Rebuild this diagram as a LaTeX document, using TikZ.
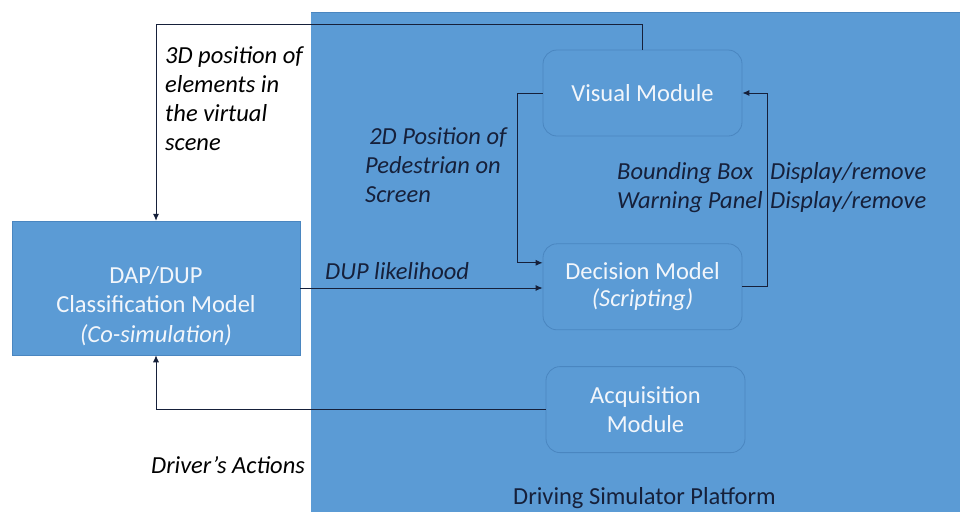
\documentclass[tikz,border=0pt]{standalone}
\usepackage{fontspec}
\setmainfont{Carlito}
\usetikzlibrary{positioning,arrows.meta}

\definecolor{simblue}{HTML}{5B9BD5}
\definecolor{edgeblue}{HTML}{4A86C0}
\definecolor{navy}{HTML}{16203A}
\definecolor{boxtext}{HTML}{F2F6FB}

\begin{document}
\begin{tikzpicture}[
  x=1pt, y=-1pt,
  every node/.style={font=\fontsize{24.5}{29.5}\selectfont},
  module/.style={rectangle,draw=edgeblue,line width=0.8pt,rounded corners=14pt,fill=simblue,
    minimum width=199pt,minimum height=86pt,align=center,text=boxtext},
  model/.style={rectangle,fill=simblue,draw=edgeblue,line width=0.5pt,
    minimum width=288pt,minimum height=134pt},
  lbl/.style={align=left,text=navy,font=\fontsize{24.5}{29}\selectfont\itshape,inner sep=0pt},
  arr/.style={draw=navy,line width=0.9pt,-{Latex[length=7pt,width=6pt]}}
]
\useasboundingbox (0,0) rectangle (960,512);
\fill[white] (0,0) rectangle (960,512);
% simulator platform
\fill[simblue] (311,12) rectangle (960,512);
\draw[edgeblue,line width=1pt] (311,12) -- (960,12);
\node[text=navy,inner sep=0pt,anchor=base west] (platform) at (513,504) {Driving Simulator Platform};

% modules
\node[module] (visual) at (642.5,93) {Visual Module};
\node[module, below=107pt of visual] (decision) {Decision Model\\[-2pt]{\itshape (Scripting)}};
\node[module, below=36pt of decision, xshift=3pt] (acq) {Acquisition\\[-1pt]Module};
\node[model] (dap) at (156,288) {};
\node[align=center,text=boxtext] (daptext) at ([yshift=-18pt]dap.center) {DAP/DUP\\Classification Model\\{\itshape (Co-simulation)}};

% connectors
\draw[arr] (visual.north) -- ++(0,-25) -| (dap.north);
\draw[arr] (visual.west) -- ++(-25,0) |- ([yshift=24pt]decision.west);
\draw[arr] (dap.east) -- (dap.east -| decision.west);
\draw[arr] (decision.east) -- ++(25,0) |- (visual.east);
\draw[arr] (acq.west) -| (dap.south);

% labels (base = last line)
\node[lbl,text=black,anchor=base west] (l3d) at (165,150) {3D position of\\elements in\\the virtual\\scene};
\node[lbl,anchor=base west] (l2d) at (365,202) {\,2D Position of\\Pedestrian on\\Screen};
\node[lbl,anchor=base west] (ldup) at (325,279) {DUP likelihood};
\node[lbl,anchor=base west] (lbox) at (617,208) {Bounding Box\\Warning Panel};
\node[lbl,anchor=base west] (ldisp) at (770,208) {Display/remove\\Display/remove};
\node[lbl,text=black,anchor=base west] (ldrv) at (151,473) {Driver’s Actions};
\end{tikzpicture}
\end{document}
